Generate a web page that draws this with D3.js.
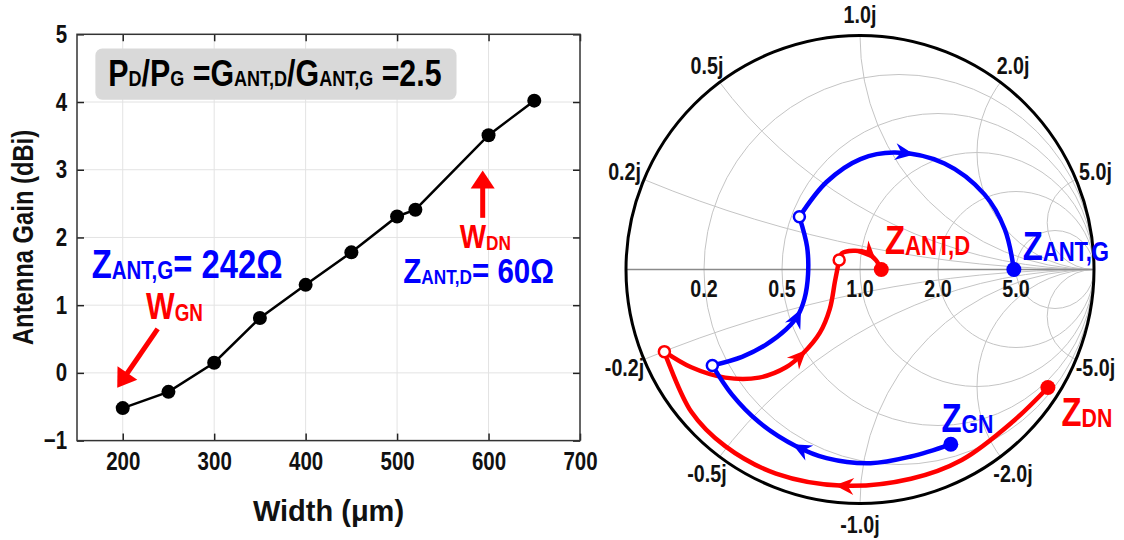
<!DOCTYPE html>
<html>
<head>
<meta charset="utf-8">
<script src="https://cdn.jsdelivr.net/npm/d3@7"></script>
<style>
  body { margin: 0; background: #fff; }
  svg { display: block; }
</style>
</head>
<body>
<svg id="fig" width="1124" height="540"></svg>
<script>
// ---------- Antenna gain vs. width ----------
const widthsUm = [200, 250, 300, 350, 400, 450, 500, 520, 600, 650];
const gainDbi  = [-0.52, -0.28, 0.15, 0.81, 1.30, 1.78, 2.31, 2.41, 3.51, 4.02];
const xTicks = [200, 300, 400, 500, 600, 700];
const yTicks = [-1, 0, 1, 2, 3, 4, 5];
const xGridValues = [200, 300, 400, 500, 600];
const yGridValues = [0, 1, 2, 3, 4];

// ---------- Smith chart ----------
const z0 = 50;                      // reference impedance (ohm)
const zAntGate = 242;               // Z_ANT,G (ohm)
const zAntDrain = 60;               // Z_ANT,D (ohm)
const resistanceCircles = [0.2, 0.5, 1, 2, 5];
const reactanceArcs = [0.2, 0.5, 1, 2, 5];
const resistanceLabels = ["0.2", "0.5", "1.0", "2.0", "5.0"];
const reactanceLabels = ["0.2j", "0.5j", "1.0j", "2.0j", "5.0j"];
const negReactanceLabels = ["-0.2j", "-0.5j", "-1.0j", "-2.0j", "-5.0j"];

// Gate-side matching trajectory, reflection-coefficient plane (re, im)
const gateSeg1 = [[0.388, -0.747], [0.218, -0.799], [0.045, -0.828], [-0.143, -0.806],
                  [-0.273, -0.755], [-0.432, -0.652], [-0.547, -0.535], [-0.631, -0.410]];
const gateSeg2 = [[-0.631, -0.410], [-0.504, -0.373], [-0.403, -0.322], [-0.316, -0.256],
                  [-0.266, -0.197], [-0.237, -0.124], [-0.222, -0.021], [-0.226, 0.096], [-0.259, 0.225]];
const gateSeg3 = [[-0.259, 0.225], [-0.143, 0.374], [0.002, 0.472], [0.150, 0.500],
                  [0.361, 0.453], [0.532, 0.321], [0.619, 0.171]];
const gateArrowAt = [0.59, 0.535, 0.46];

// Drain-side matching trajectory
const drainSeg1 = [[0.803, -0.504], [0.651, -0.652], [0.435, -0.814], [0.218, -0.894],
                   [-0.071, -0.924], [-0.359, -0.872], [-0.576, -0.755], [-0.721, -0.608], [-0.836, -0.351]];
const drainSeg2 = [[-0.836, -0.351], [-0.721, -0.418], [-0.576, -0.462], [-0.432, -0.462],
                   [-0.316, -0.418], [-0.244, -0.359], [-0.172, -0.271], [-0.129, -0.168],
                   [-0.107, -0.051], [-0.089, 0.041]];
const drainSeg3 = [[-0.089, 0.041], [-0.078, 0.069], [-0.029, 0.080], [0.029, 0.072], [0.068, 0.040]];
const drainArrowAt = [0.512, 0.615, 0.8];

const BLUE = "#0000ff", RED = "#ff0000";
const FONT = "'Liberation Sans',Arial,sans-serif";
const SX = 0.82;   // horizontal squeeze giving a condensed bold face

const svg = d3.select("#fig");
svg.append("rect").attr("width", 1124).attr("height", 540).attr("fill", "#fff");

// condensed rich text: runs of [text, fontSize, baselineShift]
function richText(g, px, py, runs, fill, anchor) {
  const t = g.append("g").attr("transform", `translate(${px},${py}) scale(${SX},1)`)
    .append("text").attr("fill", fill).attr("font-family", FONT).attr("font-weight", "bold")
    .attr("text-anchor", anchor || "start");
  let prev = 0;
  runs.forEach(([s, size, shift]) => {
    t.append("tspan").attr("font-size", size).attr("dy", (shift || 0) - prev).text(s);
    prev = shift || 0;
  });
  return t;
}

// ================= Left panel =================
const x = d3.scaleLinear([150, 700], [77, 580]);
const y = d3.scaleLinear([-1, 5], [440.6, 34.3]);
const L = svg.append("g");

L.append("g").selectAll("line").data(xGridValues).join("line")
  .attr("x1", d => x(d)).attr("x2", d => x(d)).attr("y1", y(5)).attr("y2", y(-1))
  .attr("stroke", "#e3e3e3").attr("stroke-width", 1);
L.append("g").selectAll("line").data(yGridValues).join("line")
  .attr("y1", d => y(d)).attr("y2", d => y(d)).attr("x1", x(150)).attr("x2", x(700))
  .attr("stroke", "#e3e3e3").attr("stroke-width", 1);

// ratio annotation box
const boxG = L.append("g");
boxG.append("rect").attr("x", x(170.1)).attr("y", y(4.79))
  .attr("width", x(565) - x(170.1)).attr("height", y(4.034) - y(4.79))
  .attr("rx", 7).attr("fill", "#d9d9d9");
richText(boxG, x(184.2), y(4.24), [
  ["P", 37], ["D", 22], ["/P", 37], ["G", 22], [" =G", 37], ["ANT,D", 22],
  ["/G", 37], ["ANT,G", 22], [" =2.5", 37]
], "#000");

const fmt = d => d < 0 ? "\u2212" + Math.abs(d) : String(d);
function styleAxis(g) {
  g.selectAll(".domain").remove();
  g.selectAll(".tick line").attr("stroke", "#222").attr("stroke-width", 1.5);
  g.selectAll(".tick text").attr("font-family", FONT).attr("font-weight", "bold")
    .attr("font-size", 25).attr("fill", "#111").attr("transform", `scale(${SX},1)`);
}
L.append("g").attr("transform", `translate(0,${y(-1)})`)
  .call(d3.axisBottom(x).tickValues(xTicks).tickFormat(fmt).tickSizeInner(-7).tickSizeOuter(0).tickPadding(12))
  .call(styleAxis);
L.append("g").attr("transform", `translate(${x(150)},0)`)
  .call(d3.axisLeft(y).tickValues(yTicks).tickFormat(fmt).tickSizeInner(-7).tickSizeOuter(0).tickPadding(12))
  .call(styleAxis);
L.append("g").attr("transform", `translate(0,${y(5)})`)
  .call(d3.axisTop(x).tickValues(xTicks).tickFormat("").tickSizeInner(-7).tickSizeOuter(0))
  .call(styleAxis);
L.append("g").attr("transform", `translate(${x(700)},0)`)
  .call(d3.axisRight(y).tickValues(yTicks).tickFormat("").tickSizeInner(-7).tickSizeOuter(0))
  .call(styleAxis);
L.append("rect").attr("x", x(150)).attr("y", y(5))
  .attr("width", x(700) - x(150)).attr("height", y(-1) - y(5))
  .attr("fill", "none").attr("stroke", "#333").attr("stroke-width", 1.5);

// axis titles
L.append("text").attr("x", x(425)).attr("y", 521).attr("text-anchor", "middle")
  .attr("font-family", FONT).attr("font-weight", "bold").attr("font-size", 29).attr("fill", "#111")
  .text("Width (\u03bcm)");
L.append("text").attr("transform", `translate(33,${y(2)}) rotate(-90) scale(${SX},1)`)
  .attr("text-anchor", "middle")
  .attr("font-family", FONT).attr("font-weight", "bold").attr("font-size", 29).attr("fill", "#111")
  .text("Antenna Gain (dBi)");

// data line and points
const pts = widthsUm.map((w, i) => [w, gainDbi[i]]);
L.append("path").datum(pts)
  .attr("d", d3.line().x(d => x(d[0])).y(d => y(d[1])))
  .attr("fill", "none").attr("stroke", "#000").attr("stroke-width", 2.5);
L.append("g").selectAll("circle").data(pts).join("circle")
  .attr("cx", d => x(d[0])).attr("cy", d => y(d[1])).attr("r", 7).attr("fill", "#000");

// annotation arrows
function bigArrow(g, from, to, color) {
  const [x1, y1] = from, [x2, y2] = to;
  const ang = Math.atan2(y2 - y1, x2 - x1);
  const len = Math.hypot(x2 - x1, y2 - y1);
  const a = g.append("g").attr("transform", `translate(${x1},${y1}) rotate(${ang * 180 / Math.PI})`);
  a.append("line").attr("x1", 0).attr("y1", 0).attr("x2", len - 14).attr("y2", 0)
    .attr("stroke", color).attr("stroke-width", 5);
  a.append("path").attr("d", `M${len},0 L${len - 18},-12 L${len - 18},12 Z`).attr("fill", color);
}
bigArrow(L, [x(238.2), y(0.65)], [x(194), y(-0.22)], RED);
bigArrow(L, [x(593.6), y(2.29)], [x(593.6), y(2.99)], RED);

richText(L, x(166.1), y(1.397), [["Z", 40], ["ANT,G", 25, 1], ["= 242\u03a9", 40]], BLUE);
richText(L, x(506.8), y(1.33), [["Z", 36], ["ANT,D", 21, 1], ["= 60\u03a9", 36]], BLUE);
richText(L, x(225.5), y(0.79), [["W", 37], ["GN", 23, 2]], RED);
richText(L, x(568.4), y(1.84), [["W", 34], ["DN", 21, 2]], RED);

// ================= Smith chart =================
const cx = 860, cy = 269.5, R = 234;
const gx = d3.scaleLinear([-1, 1], [cx - R, cx + R]);
const gy = d3.scaleLinear([-1, 1], [cy + R, cy - R]);
const S = svg.append("g");
const gammaOf = (zl) => (zl - z0) / (zl + z0);

S.append("clipPath").attr("id", "unit").append("circle")
  .attr("cx", cx).attr("cy", cy).attr("r", R);
const grid = S.append("g").attr("clip-path", "url(#unit)")
  .attr("fill", "none").attr("stroke", "#c4c4c4").attr("stroke-width", 1);
grid.selectAll("circle.res").data(resistanceCircles).join("circle").attr("class", "res")
  .attr("cx", r => gx(r / (1 + r))).attr("cy", cy).attr("r", r => gx(1 / (1 + r)) - gx(0));
const arcs = reactanceArcs.flatMap(v => [v, -v]);
grid.selectAll("circle.rea").data(arcs).join("circle").attr("class", "rea")
  .attr("cx", gx(1)).attr("cy", v => gy(1 / v)).attr("r", v => gx(1 / Math.abs(v)) - gx(0));
S.append("line").attr("x1", gx(-1)).attr("x2", gx(1)).attr("y1", cy).attr("y2", cy)
  .attr("stroke", "#8a8a8a").attr("stroke-width", 1.5);
S.append("circle").attr("cx", cx).attr("cy", cy).attr("r", R)
  .attr("fill", "none").attr("stroke", "#000").attr("stroke-width", 3);

// grid labels
const labelG = S.append("g");
resistanceCircles.forEach((r, i) => {
  richText(labelG, gx((r - 1) / (r + 1)), cy + 27, [[resistanceLabels[i], 24]], "#111", "middle");
});
reactanceArcs.forEach((v, i) => {
  [[v, reactanceLabels[i]], [-v, negReactanceLabels[i]]].forEach(([xv, lab]) => {
    const gr = (xv * xv - 1) / (xv * xv + 1), gi = 2 * xv / (xv * xv + 1);
    richText(labelG, gx(gr * 1.09), gy(gi * 1.09) + 8.5, [[lab, 24]], "#111", "middle");
  });
});

// trajectories
const tline = d3.line().x(d => gx(d[0])).y(d => gy(d[1])).curve(d3.curveCatmullRom.alpha(0.5));
function trajectory(segs, arrowsAt, color) {
  const g = S.append("g");
  segs.forEach((seg, i) => {
    const p = g.append("path").attr("d", tline(seg)).attr("fill", "none")
      .attr("stroke", color).attr("stroke-width", 4.5).attr("stroke-linecap", "round");
    const node = p.node(), total = node.getTotalLength();
    const at = arrowsAt[i] * total;
    const tip = node.getPointAtLength(at), back = node.getPointAtLength(Math.max(0, at - 6));
    const ang = Math.atan2(tip.y - back.y, tip.x - back.x) * 180 / Math.PI;
    g.append("path").attr("d", "M0,0 L-19,-8.5 L-13,0 L-19,8.5 Z").attr("fill", color)
      .attr("transform", `translate(${tip.x},${tip.y}) rotate(${ang})`);
  });
  return g;
}
const gEnd = [gammaOf(zAntGate), 0];
const dEnd = [gammaOf(zAntDrain), 0];
const gateSegs = [gateSeg1, gateSeg2, gateSeg3.concat([gEnd])];
const drainSegs = [drainSeg1, drainSeg2, drainSeg3.concat([dEnd])];
trajectory(drainSegs, drainArrowAt, RED);
trajectory(gateSegs, gateArrowAt, BLUE);

// start / intermediate / end points
function dot(p, color, filled) {
  S.append("circle").attr("cx", gx(p[0])).attr("cy", gy(p[1]))
    .attr("r", filled ? 7.5 : 5.5)
    .attr("fill", filled ? color : "#fff").attr("stroke", color).attr("stroke-width", filled ? 0 : 2.5);
}
dot(drainSeg1[0], RED, true);
dot(drainSeg2[0], RED, false);
dot(drainSeg3[0], RED, false);
dot(dEnd, RED, true);
dot(gateSeg1[0], BLUE, true);
dot(gateSeg2[0], BLUE, false);
dot(gateSeg3[0], BLUE, false);
dot(gEnd, BLUE, true);

// point labels
richText(S, gx(0.107), gy(0.068), [["Z", 40], ["ANT,D", 27, 1]], RED);
richText(S, gx(0.695), gy(0.041), [["Z", 40], ["ANT,G", 27, 1]], BLUE);
richText(S, gx(0.348), gy(-0.696), [["Z", 40], ["GN", 26, 1]], BLUE);
richText(S, gx(0.861), gy(-0.667), [["Z", 40], ["DN", 26, 1]], RED);
</script>
</body>
</html>
